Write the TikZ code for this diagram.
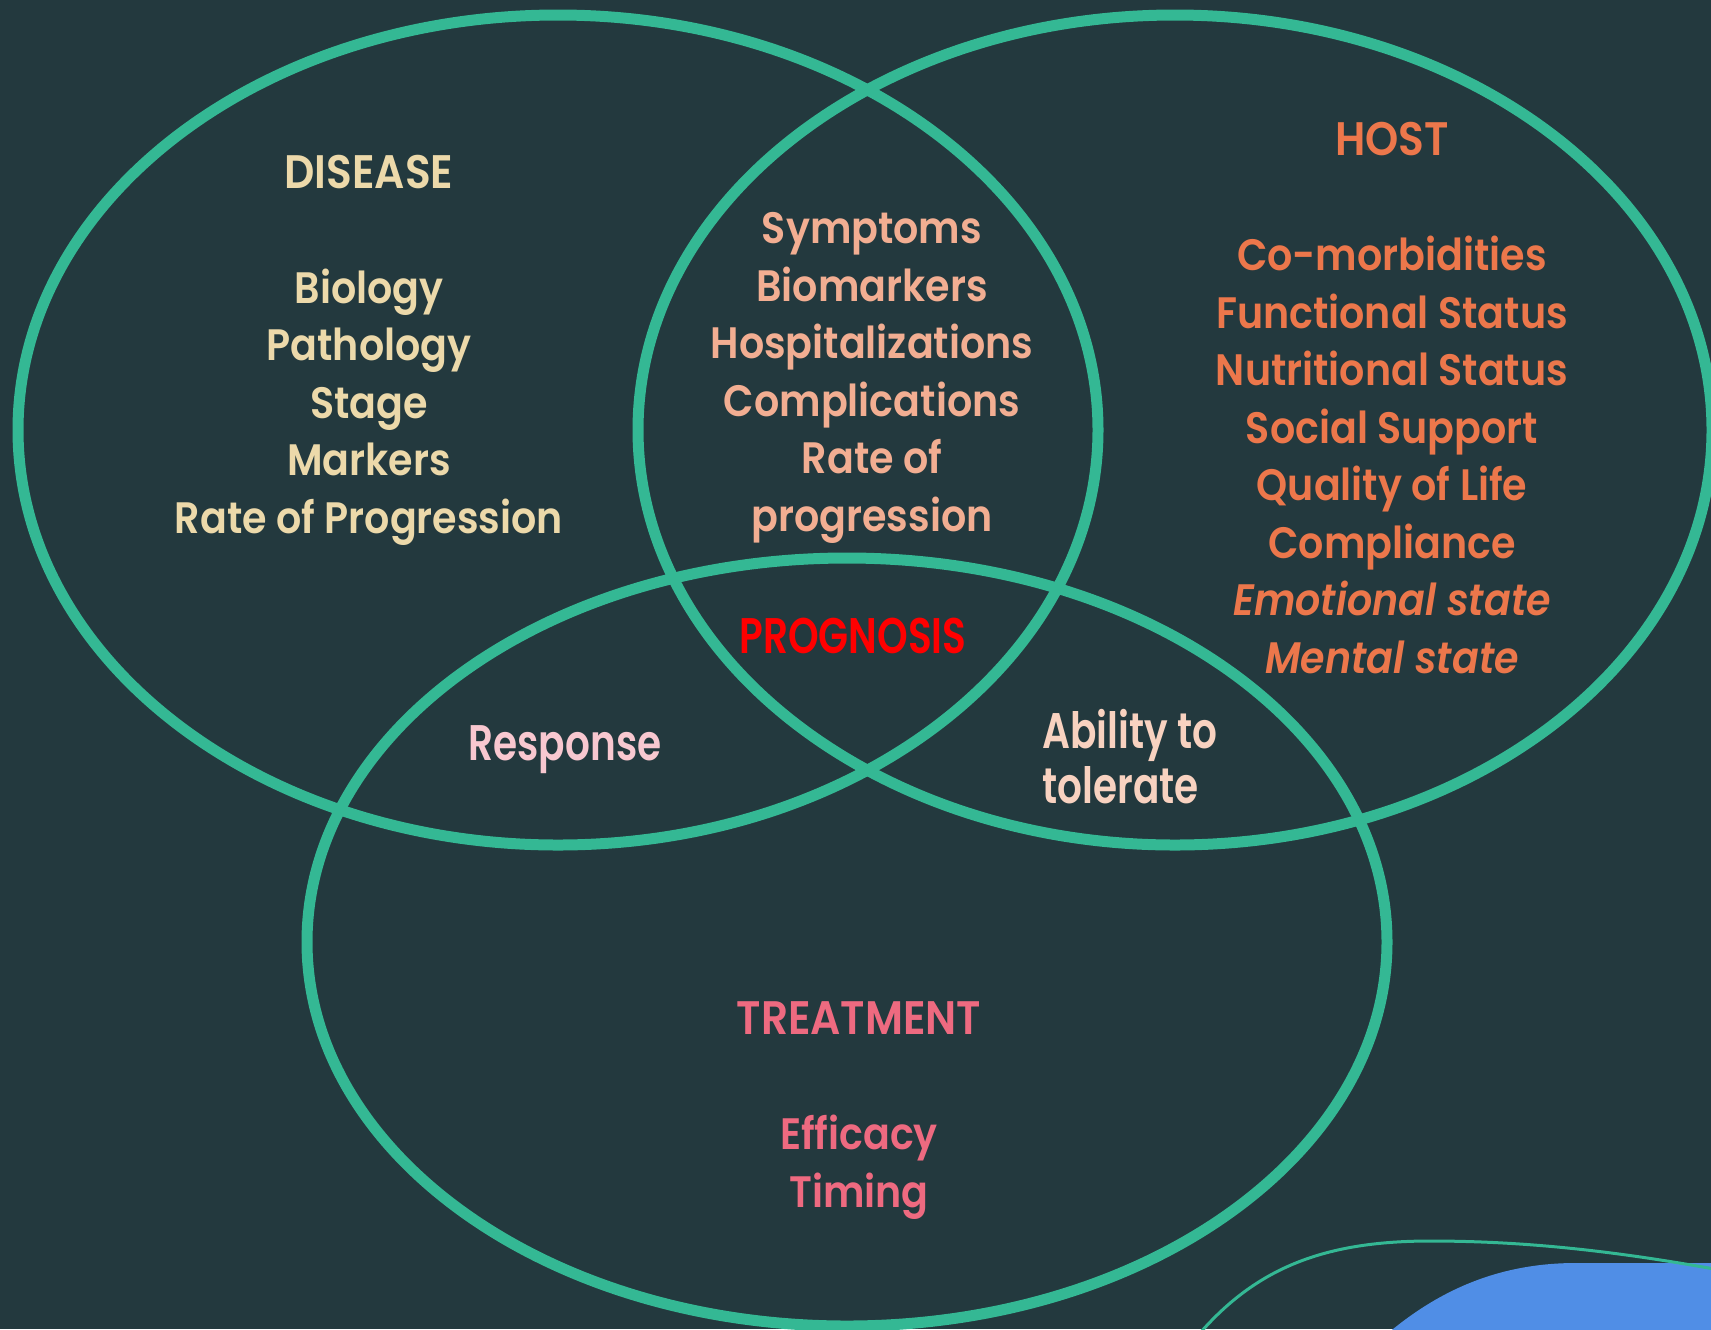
\documentclass[tikz,border=0pt]{standalone}
\usepackage{fontspec}
\setmainfont{Poppins}[UprightFont=* SemiBold, ItalicFont=* SemiBold Italic, FakeStretch=0.9]
\newfontfamily\narrowfont{Poppins}[UprightFont=* SemiBold, FakeStretch=0.78]

\definecolor{bgcol}{RGB}{35,57,62}
\definecolor{ringcol}{RGB}{52,184,148}
\definecolor{diseasecol}{RGB}{236,217,170}
\definecolor{sharedcol}{RGB}{242,174,146}
\definecolor{hostcol}{RGB}{236,119,75}
\definecolor{treatcol}{RGB}{238,106,128}
\definecolor{respcol}{RGB}{248,200,208}
\definecolor{tolcol}{RGB}{248,210,192}
\definecolor{blobcol}{RGB}{80,142,230}

% set headings are a little larger than their lists
\newcommand{\sethead}[1]{{\fontsize{23.5}{28.75}\selectfont #1}}

% multi-line nodes are anchored at the baseline of their last line
\tikzset{
  ring/.style={draw=ringcol, line width=5.5pt},
  listtext/.style={align=center, anchor=base, inner sep=0pt,
    font=\fontsize{22}{28.75}\selectfont},
  narrowtext/.style={inner sep=0pt,
    font=\narrowfont\fontsize{25}{27.5}\selectfont}
}

\begin{document}
\begin{tikzpicture}[x=0.5pt, y=-0.5pt]
  \useasboundingbox (0,0) rectangle (1711,1329);
  \clip (0,0) rectangle (1711,1329);
  \fill[bgcol] (0,0) rectangle (1711,1329);

  % the three overlapping sets
  \draw[ring] (558,430) ellipse [x radius=540, y radius=415];
  \draw[ring] (1175,430) ellipse [x radius=537, y radius=415];
  \draw[ring] (847,942) ellipse [x radius=540, y radius=384];

  % corner ornament
  \fill[blobcol] (1720,1263) -- (1572,1263)
    .. controls (1490,1264) and (1430,1296) .. (1380,1340)
    -- (1720,1340) -- cycle;
  \draw[ringcol, line width=1.5pt] (1190,1345)
    .. controls (1250,1270) and (1320,1241) .. (1430,1241)
    .. controls (1530,1241) and (1620,1252) .. (1720,1270);

  % set labels
  \node[listtext, text=diseasecol] (disease) at (369,533)
    {\sethead{DISEASE}\\[\baselineskip]Biology\\Pathology\\Stage\\Markers\\Rate of Progression};
  \node[listtext, text=sharedcol] (shared) at (872,531)
    {Symptoms\\Biomarkers\\Hospitalizations\\Complications\\Rate of\\progression};
  \node[listtext, text=hostcol] (host) at (1392,673)
    {\sethead{HOST}\\[\baselineskip]Co-morbidities\\Functional Status\\Nutritional Status\\Social Support\\Quality of Life\\Compliance\\\textit{Emotional state}\\\textit{Mental state}};
  \node[listtext, text=treatcol] (treatment) at (859,1207)
    {\sethead{TREATMENT}\\[\baselineskip]Efficacy\\Timing};

  % overlap labels
  \node[narrowtext, anchor=base, text=red] (prognosis) at (853,653) {PROGNOSIS};
  \node[narrowtext, anchor=base, text=respcol] (response) at (565,760) {Response};
  \node[narrowtext, anchor=base west, align=left, text=tolcol] (tolerate) at (1042,803)
    {Ability to\\tolerate};
\end{tikzpicture}
\end{document}
